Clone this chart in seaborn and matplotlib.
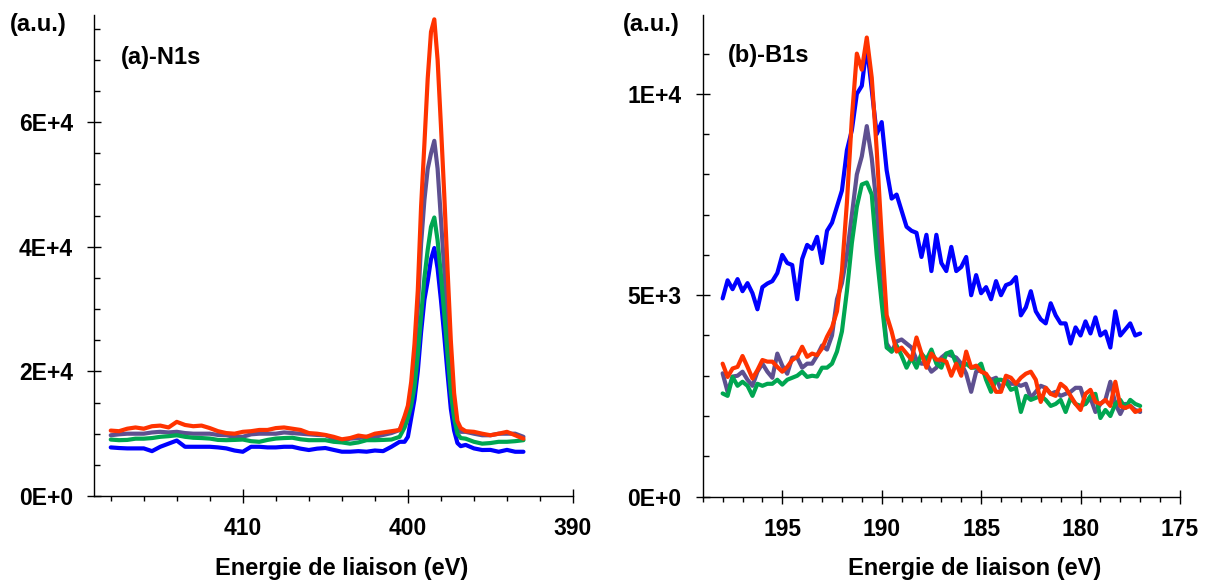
import numpy as np
import pandas as pd
import seaborn as sns
import matplotlib.pyplot as plt
from matplotlib.ticker import MultipleLocator

# samples in drawing order (red ends up on top)
samples = ["ech1", "ech2", "ech3", "ech4"]
colors = ["#0000FF", "#5E5090", "#00A651", "#FF3300"]

# ---- N1s : binding energy grid (eV), coarse baseline, fine over the peak, coarse tail
n1s_ev = np.concatenate([np.arange(418.0, 400.4, -0.5),
                         np.arange(400.2, 396.7, -0.2),
                         np.arange(396.5, 392.9, -0.5)])

# intensities in units of 1E+3 counts
n1s_blue = [7.8, 7.7, 7.64, 7.64, 7.64, 7.2, 7.9, 8.4, 8.9, 7.9,
            7.9, 7.9, 7.9, 7.8, 7.64, 7.3, 7.1, 7.9, 7.9, 7.8,
            7.8, 7.9, 7.9, 7.6, 7.38, 7.6, 7.7, 7.4, 7.11, 7.11,
            7.2, 7.11, 7.3, 7.2, 7.9, 8.7,
            8.7, 9.5, 12.5, 15.5, 20.0, 26.3, 31.5, 34.5, 38.0, 39.8,
            36.5, 31.5, 25.8, 19.7, 14.0, 10.5, 8.5, 8.0,
            8.2, 7.64, 7.38, 7.4, 7.1, 7.4, 7.1, 7.1]
n1s_purple = [9.75, 9.9, 10.0, 10.0, 10.0, 10.2, 10.3, 10.2, 10.3, 10.1,
              10.0, 10.0, 10.0, 9.8, 9.75, 9.5, 9.5, 9.9, 10.0, 10.0,
              10.0, 10.2, 10.1, 10.0, 9.9, 9.8, 9.75, 9.2, 8.9, 9.2,
              9.3, 9.5, 9.5, 9.8, 10.1, 10.6,
              12.5, 13.8, 17.0, 22.0, 30.0, 40.5, 47.5, 52.5, 55.0, 57.0,
              52.5, 44.5, 36.5, 28.0, 20.0, 14.0, 11.2, 10.3,
              10.3, 10.0, 9.75, 9.75, 10.0, 10.0, 10.0, 9.5]
n1s_green = [9.06, 8.96, 9.0, 9.2, 9.2, 9.3, 9.5, 9.6, 9.75, 9.5,
             9.35, 9.3, 9.22, 9.0, 8.96, 9.0, 9.06, 8.8, 8.7, 9.0,
             9.22, 9.3, 9.35, 9.1, 8.96, 8.96, 8.96, 8.7, 8.6, 8.4,
             8.6, 8.96, 8.96, 9.0, 9.06, 9.5,
             11.0, 12.5, 14.5, 17.5, 22.5, 28.8, 35.0, 39.5, 43.2, 44.7,
             41.0, 35.5, 29.3, 22.7, 16.6, 12.5, 10.0, 9.3,
             9.2, 8.7, 8.4, 8.5, 8.7, 8.7, 8.8, 8.96]
n1s_red = [10.5, 10.4, 10.8, 11.0, 10.8, 11.2, 11.3, 11.0, 11.9, 11.4,
           11.2, 11.3, 10.9, 10.4, 10.1, 10.0, 10.3, 10.4, 10.6, 10.6,
           10.9, 11.0, 10.8, 10.6, 10.1, 10.0, 9.8, 9.5, 9.1, 9.3,
           9.7, 9.5, 10.0, 10.2, 10.4, 10.6,
           12.8, 14.5, 18.3, 24.4, 33.0, 46.5, 56.5, 67.0, 74.5, 76.5,
           70.0, 59.5, 48.5, 36.5, 25.0, 16.5, 12.0, 10.9,
           10.4, 10.3, 10.0, 9.75, 10.0, 10.3, 9.75, 9.2]

n1s_xticks = [410, 400, 390]
n1s_xlabels = ["410", "400", "390"]
n1s_yticks = [0, 20000, 40000, 60000]
n1s_ylabels = ["0E+0", "2E+4", "4E+4", "6E+4"]

# ---- B1s : 198 -> 177 eV every 0.25 eV
b1s_ev = np.arange(198.0, 176.9, -0.25)

b1s_blue = [4.92,
            5.37, 5.15, 5.4, 5.1,
            5.3, 5.05, 4.65, 5.2,
            5.29, 5.35, 5.55, 6.0,
            5.8, 5.75, 4.9, 5.9,
            6.25, 6.15, 6.45, 5.8,
            6.6, 6.8, 7.2, 7.6,
            8.6, 9.1, 10.0, 10.2,
            11.2, 10.1, 9.0, 9.3,
            8.1, 7.4, 7.5, 7.1,
            6.7, 6.6, 6.55, 5.95,
            6.5, 5.6, 6.5, 5.8,
            5.6, 6.2, 5.6, 5.7,
            5.95, 5.0, 5.5, 5.05,
            5.2, 4.9, 5.35, 5.0,
            5.25, 5.3, 5.45, 4.5,
            4.7, 5.1, 4.6, 4.4,
            4.3, 4.8, 4.5, 4.3,
            4.3, 3.8, 4.2, 4.0,
            4.35, 4.05, 4.45, 4.0,
            4.1, 3.7, 4.6, 4.0,
            4.15, 4.3, 4.0, 4.05]
b1s_purple = [3.06,
              2.6, 2.98, 3.0, 3.1,
              2.9, 2.75, 3.1, 3.3,
              3.1, 2.95, 3.55, 3.25,
              3.05, 3.45, 3.45, 3.2,
              3.3, 3.3, 3.5, 3.75,
              3.65, 4.0, 4.9, 5.3,
              6.0, 7.0, 8.0, 8.45,
              9.2, 8.4, 7.2, 5.0,
              3.8, 3.6, 3.85, 3.9,
              3.8, 3.7, 3.4, 3.3,
              3.3, 3.1, 3.2, 3.45,
              3.55, 3.5, 3.45, 3.3,
              3.05, 2.6, 3.1, 3.15,
              3.0, 2.9, 2.95, 2.65,
              2.9, 2.8, 2.8, 2.75,
              2.8, 2.45, 2.6, 2.75,
              2.7, 2.55, 2.6, 2.5,
              2.55, 2.6, 2.7, 2.7,
              2.3, 2.45, 2.1, 2.3,
              2.4, 2.85, 2.3, 2.05,
              2.3, 2.25, 2.15, 2.1]
b1s_green = [2.56,
             2.5, 2.97, 2.75, 2.85,
             2.75, 2.5, 2.8, 2.75,
             2.8, 2.8, 2.9, 2.78,
             2.9, 2.95, 3.0, 3.1,
             2.97, 3.0, 2.98, 3.2,
             3.2, 3.3, 3.6, 4.1,
             5.1, 6.3, 7.2, 7.75,
             7.8, 7.5, 6.0, 4.8,
             3.7, 3.6, 3.75, 3.5,
             3.2, 3.45, 3.2, 3.55,
             3.4, 3.65, 3.3, 3.2,
             3.55, 3.6, 3.3, 3.2,
             3.3, 3.2, 3.2, 3.3,
             2.9, 2.6, 2.9, 2.9,
             2.85, 2.65, 2.7, 2.1,
             2.5, 2.4, 2.45, 2.5,
             2.4, 2.25, 2.3, 2.4,
             2.1, 2.45, 2.3, 2.25,
             2.3, 2.5, 2.55, 1.95,
             2.15, 2.0, 2.3, 2.4,
             2.2, 2.4, 2.3, 2.25]
b1s_red = [3.3,
           2.97, 3.18, 3.22, 3.49,
           3.22, 2.93, 3.14, 3.39,
           3.35, 3.35, 3.22, 3.1,
           3.22, 3.39, 3.47, 3.72,
           3.47, 3.55, 3.51, 3.68,
           3.97, 4.2, 4.6, 5.6,
           7.3, 9.4, 11.0, 10.6,
           11.4, 10.4, 8.6, 6.45,
           4.5, 4.1, 3.6, 3.7,
           3.55, 3.4, 3.95, 3.55,
           3.2, 3.55, 3.4, 3.4,
           3.35, 3.0, 3.3, 3.0,
           3.6, 3.2, 3.25, 3.1,
           3.05, 2.85, 2.6, 2.6,
           3.0, 2.95, 2.8, 2.95,
           3.05, 3.1, 2.9, 2.35,
           2.7, 2.55, 2.5, 2.8,
           2.7, 2.5, 2.3, 2.15,
           2.55, 2.65, 2.35, 2.3,
           2.4, 2.25, 2.85, 2.25,
           2.2, 2.25, 2.1, 2.15]

b1s_xticks = [195, 190, 185, 180, 175]
b1s_xlabels = ["195", "190", "185", "180", "175"]
b1s_yticks = [0, 5000, 10000]
b1s_ylabels = ["0E+0", "5E+3", "1E+4"]


def long_frame(ev, series):
    parts = []
    for name, vals in zip(samples, series):
        parts.append(pd.DataFrame({"ev": ev, "counts": np.array(vals) * 1000.0, "sample": name}))
    return pd.concat(parts, ignore_index=True)


df_n1s = long_frame(n1s_ev, [n1s_blue, n1s_purple, n1s_green, n1s_red])
df_b1s = long_frame(b1s_ev, [b1s_blue, b1s_purple, b1s_green, b1s_red])

sns.set_style("ticks")
plt.rcParams["font.family"] = ["Liberation Sans", "DejaVu Sans"]
plt.rcParams["font.weight"] = "bold"
for key in ["text.color", "axes.labelcolor", "xtick.color", "ytick.color", "axes.edgecolor"]:
    plt.rcParams[key] = "black"

fig = plt.figure(figsize=(12.05, 5.81), dpi=100)
ax1 = fig.add_axes([0.0782, 0.1463, 0.3973, 0.8279])
ax2 = fig.add_axes([0.5832, 0.1454, 0.3960, 0.8288])

panels = [
    (ax1, df_n1s, (419, 390), 77200, n1s_xticks, n1s_xlabels, n1s_yticks, n1s_ylabels, 2, 5000,
     "(a)-N1s", 0.056, 0.911, -0.176, 0.5175),
    (ax2, df_b1s, (199, 175), 11960, b1s_xticks, b1s_xlabels, b1s_yticks, b1s_ylabels, 1, 1000,
     "(b)-B1s", 0.053, 0.915, -0.168, 0.5705),
]

for (ax, df, xlim, ytop, xt, xl, yt, yl, xminor, yminor,
     title, tx, ty, aux, labx) in panels:
    sns.lineplot(data=df, x="ev", y="counts", hue="sample", hue_order=samples,
                 palette=colors, estimator=None, sort=False, legend=False,
                 linewidth=3.0, solid_joinstyle="round", solid_capstyle="round", ax=ax)
    ax.set_xlim(*xlim)
    ax.set_ylim(0, ytop)
    ax.set_xticks(xt, labels=xl)
    ax.set_yticks(yt, labels=yl)
    ax.xaxis.set_minor_locator(MultipleLocator(xminor))
    ax.yaxis.set_minor_locator(MultipleLocator(yminor))

    ax.tick_params(which="major", direction="inout", length=10.5, width=1.0,
                   pad=10, labelsize=16.5, colors="black")
    ax.tick_params(axis="y", which="minor", direction="in", length=4.5, width=1.0)
    ax.tick_params(axis="x", which="minor", direction="out", length=3.6, width=1.0)
    for lab in ax.get_xticklabels() + ax.get_yticklabels():
        lab.set_fontweight("bold")

    sns.despine(ax=ax)
    for side in ["left", "bottom"]:
        ax.spines[side].set_linewidth(1.0)
        ax.spines[side].set_color("black")

    ax.set_ylabel("")
    ax.set_xlabel("Energie de liaison (eV)", fontsize=17, fontweight="bold", color="black")
    ax.xaxis.set_label_coords(labx, -0.15)
    ax.xaxis.label.set_verticalalignment("center")

    ax.text(tx, ty, title, transform=ax.transAxes, fontsize=17,
            fontweight="bold", ha="left", va="center", color="black")
    ax.text(aux, 0.98, "(a.u.)", transform=ax.transAxes, fontsize=17,
            fontweight="bold", ha="left", va="center", color="black")

fig.savefig("out.png", dpi=100)
